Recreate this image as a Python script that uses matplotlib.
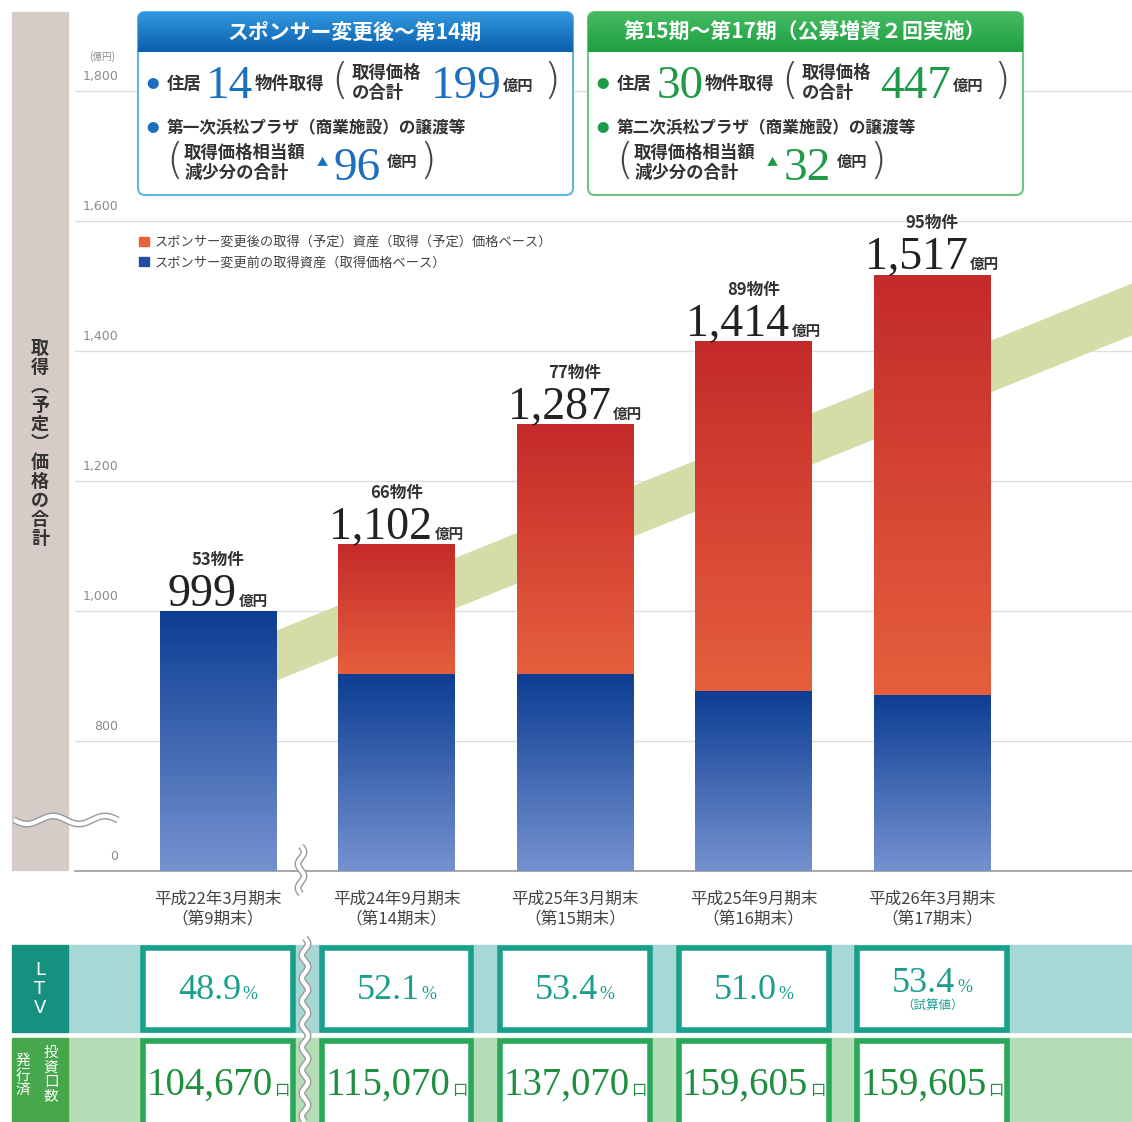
import numpy as np
import matplotlib
matplotlib.use("Agg")
import matplotlib.pyplot as plt
from matplotlib.patches import Rectangle, FancyBboxPatch, Patch
from matplotlib.colors import LinearSegmentedColormap
from matplotlib.offsetbox import TextArea, HPacker, VPacker, AnnotationBbox
from matplotlib.transforms import blended_transform_factory

plt.rcParams["font.family"] = ["Noto Sans CJK JP", "DejaVu Sans"]

# ---- data ----
periods = ["平成22年3月期末\n（第9期末）", "平成24年9月期末\n（第14期末）",
           "平成25年3月期末\n（第15期末）", "平成25年9月期末\n（第16期末）",
           "平成26年3月期末\n（第17期末）"]
totals = [999, 1102, 1287, 1414, 1517]
before = [999, 903, 903, 877, 871]
after = [t - b for t, b in zip(totals, before)]
counts = [53, 66, 77, 89, 95]
ltv = ["48.9", "52.1", "53.4", "51.0", "53.4"]
ltv_note = ["", "", "", "", "（試算値）"]
units = ["104,670", "115,070", "137,070", "159,605", "159,605"]
legend_labels = ["スポンサー変更後の取得（予定）資産（取得（予定）価格ベース）",
                 "スポンサー変更前の取得資産（取得価格ベース）"]
ytick_vals = [600, 800, 1000, 1200, 1400, 1600, 1800]
ytick_labels = ["0", "800", "1,000", "1,200", "1,400", "1,600", "1,800"]

box_titles = ["スポンサー変更後～第14期", "第15期～第17期（公募増資２回実施）"]
box_props = ["14", "30"]
box_price = ["199", "447"]
box_sale = ["第一次浜松プラザ（商業施設）の譲渡等", "第二次浜松プラザ（商業施設）の譲渡等"]
box_reduce = ["96", "32"]

# decorative trend band (data coords)
trend_x = [0.3275, 5.12]
trend_lo = [894, 1425]
trend_hi = [971, 1505]

W, H = 1132, 1122
fig = plt.figure(figsize=(W / 100, H / 100), dpi=100)


def fx(px):
    return px / W


def fy(py):
    return 1 - py / H


ax = fig.add_axes([fx(75), fy(871), fx(1132) - fx(75), fy(0) - fy(871)])
XLIM = (-0.801, 5.12)
YLIM = (600, 600 + 871 / 0.65)

x = np.arange(len(totals))
bw = 0.655
bars_b = ax.bar(x, before, bw, color="#2f5aa8", zorder=3)
bars_a = ax.bar(x, after, bw, bottom=before, color="#d9473a", zorder=3)


def gradient(patch, top, bottom):
    h = patch.get_height()
    if h <= 0:
        return
    x0, y0, w = patch.get_x(), patch.get_y(), patch.get_width()
    y0c = max(y0, YLIM[0])
    cmap = LinearSegmentedColormap.from_list("g", [bottom, top])
    g = np.linspace(0, 1, 256).reshape(-1, 1)
    ax.imshow(g, extent=[x0, x0 + w, y0c, y0 + h], origin="lower", cmap=cmap,
              aspect="auto", zorder=3.5)


for p in bars_b:
    gradient(p, "#0c3d93", "#7592cf")
for p in bars_a:
    gradient(p, "#c42a2a", "#e65f3d")

ax.fill_between(trend_x, trend_lo, trend_hi, color="#d6dca8", lw=0, zorder=2)

ax.set_xlim(*XLIM)
ax.set_ylim(*YLIM)
ax.set_yticks(ytick_vals)
ax.yaxis.grid(True, color="#dedede", lw=1)
ax.set_axisbelow(True)
ax.tick_params(axis="y", length=0, labelleft=False)
for s in ["left", "top", "right"]:
    ax.spines[s].set_visible(False)
ax.spines["bottom"].set_color("#9a9a9a")
ax.spines["bottom"].set_linewidth(1.2)

ax.set_xticks(x, periods)
ax.tick_params(axis="x", length=0, pad=14, labelsize=12, labelcolor="#444444")
for lab in ax.get_xticklabels():
    lab.set_linespacing(1.3)

for v, lab in zip(ytick_vals, ytick_labels):
    ax.annotate(lab, (0, v), xycoords=("axes fraction", "data"), xytext=(31, 10.5),
                textcoords="offset points", fontsize=9, color="#8a8a8a",
                ha="right", va="center", family="DejaVu Sans")
ax.annotate("(億円)", (0, 1800), xycoords=("axes fraction", "data"), xytext=(29, 25),
            textcoords="offset points", fontsize=7, color="#8a8a8a", ha="right", va="center")

handles = [Patch(color="#e8603c"), Patch(color="#1f4ea3")]
ax.legend(handles, legend_labels, loc="upper left", bbox_to_anchor=(fx(139), fy(236)),
          bbox_transform=fig.transFigure, frameon=False, fontsize=9.5,
          handlelength=0.75, handleheight=0.75, handletextpad=0.4, labelspacing=0.55,
          borderpad=0, borderaxespad=0, labelcolor="#444444")

for i in range(len(totals)):
    num = TextArea(f"{totals[i]:,}", textprops=dict(fontsize=33, family="Liberation Serif", color="#222222"))
    unit = TextArea("億円", textprops=dict(fontsize=10.5, weight="bold", color="#333333"))
    row = HPacker(children=[num, unit], align="baseline", pad=0, sep=2)
    cnt = TextArea(f"{counts[i]}物件", textprops=dict(fontsize=12, weight="bold", color="#333333"))
    col = VPacker(children=[cnt, row], align="center", pad=0, sep=3)
    ab = AnnotationBbox(col, (x[i], totals[i]), xybox=(0, -3), boxcoords="offset points",
                        box_alignment=(0.5, 0), frameon=False, zorder=5)
    ax.add_artist(ab)

# ---- overlay in pixel coords ----
ov = fig.add_axes([0, 0, 1, 1], zorder=3)
ov.set_xlim(0, W)
ov.set_ylim(H, 0)
ov.axis("off")

ov.add_patch(Rectangle((12, 12), 56, 858, color="#d5ccc8", zorder=1))
ov.text(40, 443, "\n".join("取得︵予定︶価格の合計"), ha="center", va="center",
        fontsize=13, weight="bold", color="#333333", linespacing=1.0)


def wave(xs, ys):
    ov.plot(xs, ys, color="#9a9a9a", lw=5, solid_capstyle="butt", zorder=8)
    ov.plot(xs, ys, color="white", lw=3, solid_capstyle="butt", zorder=9)


t = np.linspace(0, 1, 200)
wave(14 + 104 * t, 820 + 4 * np.sin(t * 4 * np.pi))
wave(301 + 3 * np.sin(t * 4 * np.pi), 846 + 48 * t)
wave(305 + 3 * np.sin(t * 16 * np.pi), 938 + 184 * t)

# top boxes
colors = ["#1b6fbf", "#1e9a48"]
borders = ["#62b4e6", "#6dc486"]
head_cm = [LinearSegmentedColormap.from_list("h0", ["#3198de", "#0b5fae"]),
           LinearSegmentedColormap.from_list("h1", ["#45bb62", "#1f9e42"])]
txt = "#333333"
g = np.linspace(0, 1, 100).reshape(-1, 1)
paren = dict(color="#444444", fontsize=31, family="DejaVu Sans", weight="light",
             ha="center", va="center", zorder=6)
for k in range(2):
    dx = 450 * k
    c = colors[k]
    x0 = 138 + dx
    body = FancyBboxPatch((x0, 12), 435, 183, boxstyle="round,pad=0,rounding_size=7",
                          facecolor="white", edgecolor=borders[k], lw=1.5, zorder=4)
    ov.add_patch(body)
    im = ov.imshow(g, extent=[x0, x0 + 435, 52, 12], cmap=head_cm[k], aspect="auto",
                   origin="upper", zorder=4.5)
    im.set_clip_path(body)
    ov.text(x0 + 217, 32, box_titles[k], color="white", fontsize=15, weight="bold",
            ha="center", va="center", zorder=6)
    # line 1
    ov.text(153 + dx, 84, "●", color=c, fontsize=9, ha="center", va="center", zorder=6)
    ov.text(167 + dx, 84, "住居", color=txt, fontsize=12.5, weight="bold", va="center", zorder=6)
    ov.text(230 + dx, 98, box_props[k], color=c, fontsize=34, family="Liberation Serif",
            ha="center", va="baseline", zorder=6)
    ov.text(255 + dx, 84, "物件取得", color=txt, fontsize=12.5, weight="bold", va="center", zorder=6)
    ov.text(340 + dx, 81, "(", **paren)
    ov.text(352 + dx, 73, "取得価格", color=txt, fontsize=12.5, weight="bold", va="center", zorder=6)
    ov.text(352 + dx, 93, "の合計", color=txt, fontsize=12.5, weight="bold", va="center", zorder=6)
    ov.text(466 + dx, 98, box_price[k], color=c, fontsize=34, family="Liberation Serif",
            ha="center", va="baseline", zorder=6)
    ov.text(503 + dx, 86, "億円", color=txt, fontsize=11, weight="bold", va="center", zorder=6)
    ov.text(552 + dx, 81, ")", **paren)
    # line 2
    ov.text(153 + dx, 128, "●", color=c, fontsize=9, ha="center", va="center", zorder=6)
    ov.text(167 + dx, 128, box_sale[k], color=txt, fontsize=12, weight="bold", va="center", zorder=6)
    # line 3
    ov.text(175 + dx, 161, "(", **paren)
    ov.text(184 + dx, 153, "取得価格相当額", color=txt, fontsize=12.5, weight="bold", va="center", zorder=6)
    ov.text(184 + dx, 173, "減少分の合計", color=txt, fontsize=12.5, weight="bold", va="center", zorder=6)
    ov.text(322 + dx, 163, "▲", color=c, fontsize=8, ha="center", va="center", zorder=6)
    ov.text(357 + dx, 180, box_reduce[k], color=c, fontsize=34, family="Liberation Serif",
            ha="center", va="baseline", zorder=6)
    ov.text(387 + dx, 162, "億円", color=txt, fontsize=11, weight="bold", va="center", zorder=6)
    ov.text(428 + dx, 161, ")", **paren)

# bottom table
tr = blended_transform_factory(ax.transData, ov.transData)
ov.add_patch(Rectangle((68, 945), W - 68, 87, color="#a6d8d5", zorder=2))
ov.add_patch(Rectangle((68, 1038), W - 68, 84, color="#b4ddb6", zorder=2))
ov.add_patch(Rectangle((12, 945), 56, 87, color="#17917f", zorder=2))
ov.add_patch(Rectangle((12, 1038), 56, 84, color="#47a74d", zorder=2))
ov.text(40, 989, "L\nT\nV", color="white", fontsize=13, ha="center", va="center",
        linespacing=1.1, family="DejaVu Sans", zorder=6)
ov.text(51, 1046, "\n".join("投資口数"), color="white", fontsize=10.5, ha="center", va="top",
        linespacing=1.05, zorder=6)
ov.text(23, 1054, "\n".join("発行済"), color="white", fontsize=10.5, ha="center", va="top",
        linespacing=1.05, zorder=6)

cw = 0.84
for i in range(len(totals)):
    ov.add_patch(Rectangle((x[i] - cw / 2, 948), cw, 82, transform=tr, facecolor="white",
                           edgecolor="#19a08b", lw=4, zorder=3))
    ov.add_patch(Rectangle((x[i] - cw / 2, 1041), cw, 95, transform=tr, facecolor="white",
                           edgecolor="#2aa85a", lw=4, zorder=3))
    v = TextArea(ltv[i], textprops=dict(fontsize=26, family="Liberation Serif", color="#1b9e8e"))
    pct = TextArea("%", textprops=dict(fontsize=13, family="Liberation Serif", color="#1b9e8e"))
    row = HPacker(children=[v, pct], align="baseline", pad=0, sep=1)
    if ltv_note[i]:
        note = TextArea(ltv_note[i], textprops=dict(fontsize=9, color="#1b9e8e"))
        row = VPacker(children=[row, note], align="center", pad=0, sep=0)
    ov.add_artist(AnnotationBbox(row, (x[i], 990), xycoords=tr, box_alignment=(0.5, 0.5),
                                 frameon=False, zorder=6))
    u = TextArea(units[i], textprops=dict(fontsize=28, family="Liberation Serif", color="#1e8f3e"))
    kou = TextArea("口", textprops=dict(fontsize=11, color="#1e8f3e"))
    row2 = HPacker(children=[u, kou], align="baseline", pad=0, sep=1)
    ov.add_artist(AnnotationBbox(row2, (x[i], 1085), xycoords=tr, box_alignment=(0.5, 0.5),
                                 frameon=False, zorder=6))

fig.savefig("out.png", dpi=100)
